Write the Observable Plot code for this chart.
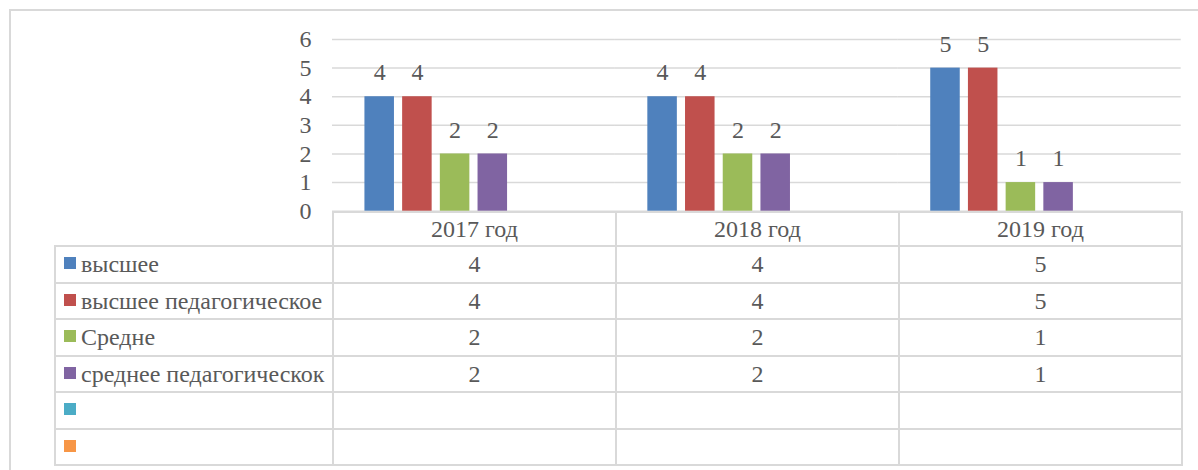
<!DOCTYPE html>
<html><head><meta charset="utf-8">
<script src="https://cdn.jsdelivr.net/npm/d3@7"></script>
<script src="https://cdn.jsdelivr.net/npm/@observablehq/plot@0.6"></script>
<style>
html,body{margin:0;padding:0;background:#fff;overflow:hidden;}
#wrap{position:relative;width:1198px;height:470px;overflow:hidden;font-family:'Liberation Serif','Times New Roman',serif;color:#595959;}
#frame{position:absolute;left:9px;top:9px;width:1400px;height:800px;border:2px solid #d9d9d9;box-sizing:border-box;}
#chart{position:absolute;left:0;top:0;}
#tbl{position:absolute;left:54px;top:211px;border-collapse:collapse;table-layout:fixed;font-family:'Liberation Serif','Times New Roman',serif;font-size:24px;color:#595959;}
#tbl td{border:2px solid #d9d9d9;padding:0;text-align:center;vertical-align:middle;white-space:nowrap;overflow:hidden;line-height:24px;font-family:'Liberation Serif',serif;}
#tbl td.leg{text-align:left;padding-left:8px;}
#tbl td.blank{border-top:none;border-left:none;}
.sw{display:inline-block;width:12px;height:12px;margin-right:5px;vertical-align:3px;}
</style></head>
<body><div id="wrap"><div id="frame"></div><div id="chart"></div></div>
<script>
const years = ["2017 год", "2018 год", "2019 год"];
const seriesNames = ["высшее", "высшее педагогическое", "Средне", "среднее педагогическок", "", ""];
const seriesColors = ["#4F81BD", "#C0504D", "#9BBB59", "#8064A2", "#4BACC6", "#F79646"];
const vysshee = [4, 4, 5];
const vyssheePed = [4, 4, 5];
const sredne = [2, 2, 1];
const sredneePed = [2, 2, 1];
const empty1 = [null, null, null];
const empty2 = [null, null, null];
const yTicks = [0, 1, 2, 3, 4, 5, 6];

const seriesValues = [vysshee, vyssheePed, sredne, sredneePed, empty1, empty2];
const data = [];
seriesValues.forEach((vals, s) => vals.forEach((v, i) => {
  if (v != null) data.push({year: years[i], s, value: v});
}));

const font = "'Liberation Serif', 'Times New Roman', serif";
const chart = Plot.plot({
  width: 1198, height: 470,
  marginLeft: 332, marginRight: 17.3, marginTop: 39, marginBottom: 259.3,
  style: {fontSize: "24px", fontFamily: font, color: "#595959", background: "transparent"},
  fx: {domain: years, padding: 0, axis: null, round: false},
  x: {domain: d3.range(6), paddingInner: 0.217, paddingOuter: 0.86, axis: null, round: false},
  y: {domain: [0, 6], ticks: yTicks, tickSize: 0, tickPadding: 21, label: null, tickFormat: d => String(d)},
  color: {type: "ordinal", domain: d3.range(6), range: seriesColors},
  marks: [
    Plot.gridY(yTicks, {stroke: "#d9d9d9", strokeOpacity: 1, strokeWidth: 1.5}),
    Plot.barY(data, {fx: "year", x: "s", y: "value", fill: "s"}),
    Plot.text(data, {fx: "year", x: "s", y: "value", text: d => String(d.value), dy: -24, fontSize: 24, fill: "#595959", fontFamily: font})
  ]
});
document.getElementById("chart").appendChild(chart);

// data table
const tbl = document.createElement("table");
tbl.id = "tbl";
const cg = document.createElement("colgroup");
[278, 283, 283, 283].forEach(w => { const c = document.createElement("col"); c.style.width = w + "px"; cg.appendChild(c); });
tbl.appendChild(cg);
const hr = document.createElement("tr"); hr.style.height = "34px";
const b = document.createElement("td"); b.className = "blank"; hr.appendChild(b);
years.forEach(y => { const td = document.createElement("td"); td.textContent = y; hr.appendChild(td); });
tbl.appendChild(hr);
seriesNames.forEach((name, s) => {
  const tr = document.createElement("tr"); tr.style.height = "36.5px";
  const td = document.createElement("td"); td.className = "leg";
  const sw = document.createElement("span"); sw.className = "sw"; sw.style.background = seriesColors[s];
  td.appendChild(sw); td.appendChild(document.createTextNode(name));
  tr.appendChild(td);
  seriesValues[s].forEach(v => { const c = document.createElement("td"); c.textContent = v == null ? "" : String(v); tr.appendChild(c); });
  tbl.appendChild(tr);
});
document.getElementById("wrap").appendChild(tbl);
</script>
</body></html>
